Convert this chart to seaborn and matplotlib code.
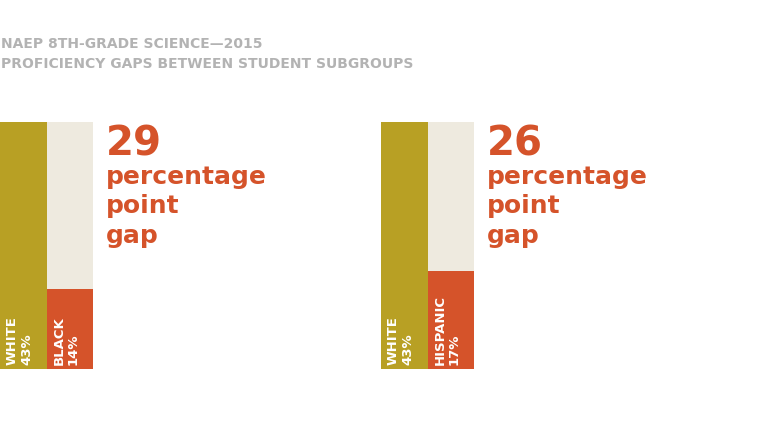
import matplotlib
matplotlib.use("Agg")
import matplotlib.pyplot as plt
import seaborn as sns
import pandas as pd

# ---- data ----
panel1_groups = ["WHITE", "BLACK"]
panel1_values = [43, 14]
panel1_gap = 29
panel2_groups = ["WHITE", "HISPANIC"]
panel2_values = [43, 17]
panel2_gap = 26
title_lines = ["NAEP 8TH-GRADE SCIENCE\u20142015",
               "PROFICIENCY GAPS BETWEEN STUDENT SUBGROUPS"]

GOLD = "#B8A024"
ORANGE = "#D5532A"
BEIGE = "#EEEADF"
GREY = "#B3B3B3"

sns.set_theme(style="white")
plt.rcParams["font.family"] = ["DejaVu Sans"]

W, H = 762, 430
fig = plt.figure(figsize=(W / 100, H / 100), dpi=100)


def fx(px):
    return px / W


def fy(py):
    return 1 - py / H


def panel(left_px, groups, values, gap):
    ax = fig.add_axes([fx(left_px), (H - 369) / H, 93 / W, 247 / H])
    top = max(values)
    df_bg = pd.DataFrame({"g": groups, "v": [top] * len(groups)})
    df = pd.DataFrame({"g": groups, "v": values})
    sns.barplot(data=df_bg, x="g", y="v", color=BEIGE, width=1.0,
                saturation=1, linewidth=0, ax=ax)
    sns.barplot(data=df, x="g", y="v", hue="g", palette=[GOLD, ORANGE],
                width=1.0, saturation=1, linewidth=0, legend=False, ax=ax)
    ax.set_xlim(-0.5, len(groups) - 0.5)
    ax.set_ylim(0, top)
    ax.axis("off")
    for i, (g, v) in enumerate(zip(groups, values)):
        ax.text(i - 0.08, 0.7, f"{g}\n{v}%", rotation=90, ha="center",
                va="bottom", multialignment="left", color="white",
                fontsize=9.5, fontweight="bold", linespacing=1.15)
    tx = left_px + 106
    fig.text(fx(tx), fy(155), str(gap), color=ORANGE, fontsize=29,
             fontweight="bold", va="baseline", ha="left")
    for word, base in zip(["percentage", "point", "gap"], [184, 213, 243]):
        fig.text(fx(tx), fy(base), word, color=ORANGE, fontsize=18,
                 fontweight="bold", va="baseline", ha="left")
    return ax


panel(0, panel1_groups, panel1_values, panel1_gap)
panel(381, panel2_groups, panel2_values, panel2_gap)

fig.text(fx(1), fy(48), title_lines[0], color=GREY, fontsize=10,
         fontweight="bold", va="baseline", ha="left")
fig.text(fx(1), fy(68), title_lines[1], color=GREY, fontsize=10,
         fontweight="bold", va="baseline", ha="left")

fig.savefig("out.png", dpi=100)
